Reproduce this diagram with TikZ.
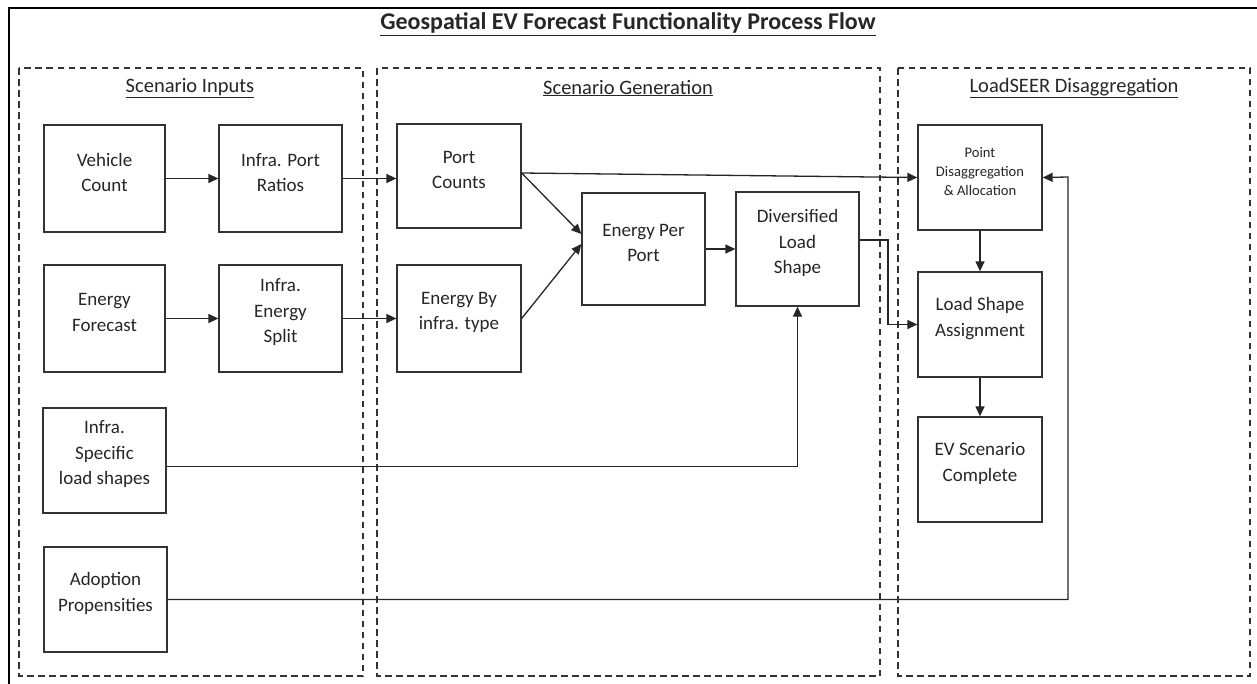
\documentclass[tikz,border=0pt]{standalone}
\usepackage{fontspec}
\setmainfont{Carlito}
\usetikzlibrary{arrows.meta,calc}

\definecolor{ink}{HTML}{262626}
\definecolor{edge}{HTML}{333333}

\tikzset{
  box/.style={draw=edge, line width=1.3pt, fill=white, minimum width=123pt, minimum height=106pt, inner sep=0pt},
  boxtext/.style={font=\fontsize{19}{25.5}\selectfont, text=ink, align=center, yshift=6pt, inner sep=0pt},
  smalltext/.style={font=\fontsize{14.6}{19.3}\selectfont, text=ink, align=center, yshift=6pt, inner sep=0pt},
  panel/.style={draw=edge, line width=1.2pt, dash pattern=on 6.5pt off 4.5pt},
  paneltitle/.style={font=\fontsize{20.5}{24}\selectfont, text=ink},
  flow/.style={draw=ink, line width=1.3pt, -{Triangle[length=10pt,width=9pt]}},
}

\begin{document}
\begin{tikzpicture}[x=1pt, y=-1pt]
\useasboundingbox (0,0) rectangle (1257,683);

% outer frame (top and left edges)
\draw[line width=2.4pt, black] (9,700) -- (9,8) -- (1270,8);

% title
\node[font=\fontsize{24}{28}\selectfont\bfseries, text=ink] (title) at (628,24)
  {\underline{Geospatial EV Forecast Functionality Process Flow}};

% dashed panels
\draw[panel] (19,68) rectangle (363,676);
\draw[panel] (377,68) rectangle (880,676);
\draw[panel] (898,68) rectangle (1250,676);

\node[paneltitle] (tin) at (190,88) {\underline{Scenario Inputs}};
\node[paneltitle] (tgen) at (628,88) {\underline{Scenario Generation}};
\node[paneltitle] (tdis) at (1074,88) {\underline{LoadSEER Disaggregation}};

% scenario inputs
\node[box, minimum width=121pt, minimum height=107pt, label={[boxtext]center:Vehicle\\Count}] (veh) at (104.5,178.5) {};
\node[box, minimum height=107pt, label={[boxtext]center:Infra. Port\\Ratios}] (ipr) at (280.5,178.5) {};
\node[box, minimum width=121pt, minimum height=107pt, label={[boxtext]center:Energy\\Forecast}] (enf) at (104.5,318.5) {};
\node[box, minimum height=107pt, label={[boxtext]center:Infra.\\Energy\\Split}] (ies) at (280.5,318.5) {};
\node[box, minimum height=105pt, label={[boxtext]center:Infra.\\Specific\\load shapes}] (isl) at (104.5,460.5) {};
\node[box, minimum height=105pt, label={[boxtext]center:Adoption\\Propensities}] (adp) at (105.5,599.5) {};

% scenario generation
\node[box, minimum width=124pt, minimum height=104pt, label={[boxtext]center:Port\\Counts}] (pc) at (459,176) {};
\node[box, minimum width=124pt, minimum height=107pt, label={[boxtext]center:Energy By\\infra. type}] (ebt) at (459,318.5) {};
\node[box, minimum height=112pt, label={[boxtext]center:Energy Per\\Port}] (epp) at (643.5,249) {};
\node[box, minimum height=114pt, label={[boxtext]center:Diversified\\Load\\Shape}] (dls) at (797.5,249) {};

% disaggregation
\node[box, minimum width=124pt, minimum height=105pt, label={[smalltext]center:Point\\Disaggregation\\\& Allocation}] (pda) at (980,177.5) {};
\node[box, minimum width=124pt, minimum height=105pt, label={[boxtext]center:Load Shape\\Assignment}] (lsa) at (980,324.5) {};
\node[box, minimum width=124pt, minimum height=105pt, label={[boxtext]center:EV Scenario\\Complete}] (evc) at (980,469.5) {};

% turning points of routed connectors
\coordinate (jog) at (888,240);
\coordinate (rail) at (1068,177);

% connectors
\draw[flow] (veh.east) -- (ipr.west);
\draw[flow] (enf.east) -- (ies.west);
\draw[flow] (ipr.east) -- (ipr.east -| pc.west);
\draw[flow] (ies.east) -- (ies.east -| ebt.west);
\draw[flow] ([yshift=3pt]pc.east) -- ([yshift=15pt]epp.west);
\draw[flow] (ebt.east) -- ([yshift=5pt]epp.west);
\draw[flow] ([yshift=3pt]pc.east) -- (pda.west);
\draw[flow] (epp.east) -- (dls.west);
\draw[flow] ([yshift=9pt]dls.east) -- (jog) |- (lsa.west);
\draw[flow] ([yshift=-6pt]isl.east) -| (dls.south);
\draw[flow] (adp.east) -| (rail) -- (pda.east);
\draw[flow] (pda.south) -- (lsa.north);
\draw[flow] (lsa.south) -- (evc.north);
\end{tikzpicture}
\end{document}
